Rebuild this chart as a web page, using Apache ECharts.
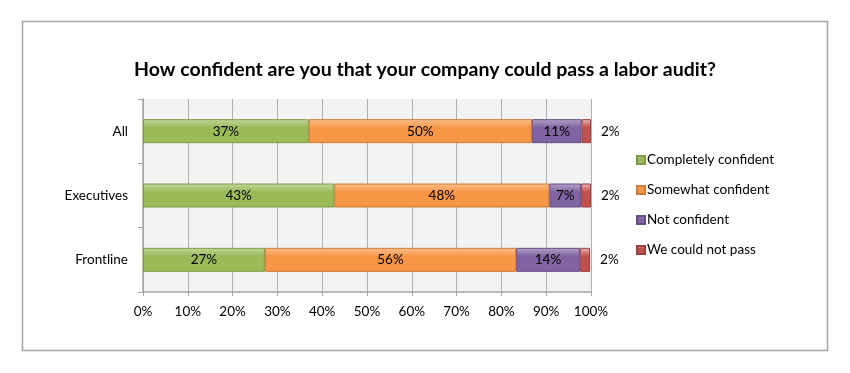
<!DOCTYPE html>
<html>
<head>
<meta charset="utf-8">
<style>html,body{margin:0;padding:0;background:#fff}#chart{width:850px;height:373px}</style>
<script src="https://cdn.jsdelivr.net/npm/echarts@6/dist/echarts.min.js"></script>
</head>
<body>
<div id="chart"></div>
<script>
var categories = ['All', 'Executives', 'Frontline'];
var completelyConfident = [37.0, 42.7, 27.2];
var somewhatConfident = [49.8, 48.0, 56.1];
var notConfident = [11.1, 7.1, 14.2];
var couldNotPass = [2.1, 2.2, 2.3];
var seriesNames = ['Completely confident', 'Somewhat confident', 'Not confident', 'We could not pass'];
var xTicks = [0, 10, 20, 30, 40, 50, 60, 70, 80, 90, 100];

var FONT = 'Lato, "Open Sans", sans-serif';
var chart = echarts.init(document.getElementById('chart'), null, {renderer: 'canvas'});

function grad(light, base, border) {
  return {
    color: new echarts.graphic.LinearGradient(0, 0, 0, 1, [
      {offset: 0, color: light},
      {offset: 0.35, color: base},
      {offset: 1, color: base}
    ]),
    borderColor: border,
    borderWidth: 1
  };
}
var styles = [
  grad('#c3d69b', '#9bbb59', '#7f9a48'),
  grad('#fac090', '#f79646', '#d07a35'),
  grad('#b3a2c7', '#8064a2', '#664f85'),
  grad('#e6b9b8', '#c0504d', '#9c3f3d')
];
var datas = [completelyConfident, somewhatConfident, notConfident, couldNotPass];

var series = datas.map(function (d, i) {
  return {
    name: seriesNames[i],
    type: 'bar',
    stack: 'total',
    barWidth: 24,
    data: d,
    itemStyle: styles[i],
    label: {
      show: true,
      position: i === 3 ? 'right' : 'inside',
      distance: 10,
      color: '#000',
      fontFamily: FONT,
      fontSize: 13.5,
      formatter: function (p) { return Math.round(p.value) + '%'; }
    }
  };
});

chart.setOption({
  animation: false,
  backgroundColor: '#fff',
  title: {
    text: 'How confident are you that your company could pass a labor audit?',
    left: 'center',
    top: 55,
    textStyle: {fontFamily: FONT, fontSize: 19.5, fontWeight: 'bold', color: '#000'}
  },
  graphic: [{
    type: 'rect',
    shape: {x: 22.5, y: 21.5, width: 805, height: 329},
    style: {fill: null, stroke: '#a6a6a6', lineWidth: 1.5},
    silent: true
  }],
  legend: {
    orient: 'vertical',
    left: 631,
    top: 148,
    itemWidth: 8,
    itemHeight: 8,
    itemGap: 16,
    icon: 'rect',
    data: seriesNames,
    textStyle: {fontFamily: FONT, fontSize: 13.5, color: '#000', lineHeight: 14, padding: [0, 0, 0, -3]}
  },
  grid: {
    left: 143, right: 259, top: 99, bottom: 81,
    show: true, backgroundColor: '#f3f3f3', borderWidth: 0
  },
  xAxis: {
    type: 'value',
    min: xTicks[0],
    max: xTicks[xTicks.length - 1],
    interval: 10,
    axisLine: {show: true, lineStyle: {color: '#a6a6a6', width: 1.5}},
    axisTick: {show: true, length: 4, lineStyle: {color: '#a6a6a6'}},
    splitLine: {show: true, lineStyle: {color: '#b0b0b0', width: 1}},
    axisLabel: {
      fontFamily: FONT, fontSize: 13.5, color: '#000', margin: 13,
      formatter: function (v) { return v + '%'; }
    }
  },
  yAxis: {
    type: 'category',
    inverse: true,
    data: categories,
    axisLine: {show: true, lineStyle: {color: '#a6a6a6', width: 1.5}},
    axisTick: {show: true, length: 5, lineStyle: {color: '#a6a6a6'}},
    splitArea: {show: true, areaStyle: {color: ['#f3f3f3', '#f3f3f3']}},
    axisLabel: {fontFamily: FONT, fontSize: 13.5, color: '#000', margin: 15}
  },
  series: series
});
</script>
</body>
</html>
